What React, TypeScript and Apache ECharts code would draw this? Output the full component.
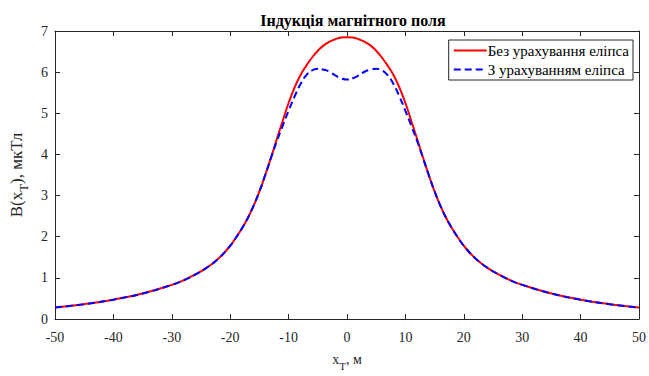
import React, { useEffect, useRef } from "react";
import * as echarts from "echarts";

const xValues = [
  -50, -45, -40, -35, -30, -28, -26, -24, -22, -20, -19, -18, -17, -16, -15, -14, -13, -12, -11, -10,
  -9, -8, -7, -6, -5, -4, -3, -2, -1, 0, 1, 2, 3, 4, 5, 6, 7, 8, 9,
  10, 11, 12, 13, 14, 15, 16, 17, 18, 19, 20, 22, 24, 26, 28, 30, 35, 40, 45, 50,
];

const withoutEllipse = [
  0.28, 0.36, 0.47, 0.62, 0.83, 0.94, 1.08, 1.25, 1.47, 1.78, 1.98, 2.2, 2.45, 2.75, 3.1, 3.5, 3.93, 4.38, 4.82, 5.25,
  5.62, 5.92, 6.15, 6.35, 6.52, 6.65, 6.74, 6.8, 6.84, 6.85, 6.84, 6.8, 6.74, 6.65, 6.52, 6.35, 6.15, 5.92, 5.62,
  5.25, 4.82, 4.38, 3.93, 3.5, 3.1, 2.75, 2.45, 2.2, 1.98, 1.78, 1.47, 1.25, 1.08, 0.94, 0.83, 0.62, 0.47, 0.36, 0.28,
];

const withEllipse = [
  0.28, 0.36, 0.47, 0.62, 0.83, 0.94, 1.08, 1.25, 1.47, 1.78, 1.98, 2.2, 2.45, 2.75, 3.1, 3.5, 3.92, 4.33, 4.7, 5.06,
  5.4, 5.7, 5.92, 6.04, 6.08, 6.06, 6.01, 5.92, 5.85, 5.82, 5.85, 5.92, 6.01, 6.06, 6.08, 6.04, 5.92, 5.7, 5.4,
  5.06, 4.7, 4.33, 3.92, 3.5, 3.1, 2.75, 2.45, 2.2, 1.98, 1.78, 1.47, 1.25, 1.08, 0.94, 0.83, 0.62, 0.47, 0.36, 0.28,
];

const seriesNames = ["Без урахування еліпса", "З урахуванням еліпса"];
const titleText = "Індукція магнітного поля";

const FONT = "'Liberation Serif', 'Times New Roman', serif";
const AX = "#262626";

export default function App() {
  const ref = useRef<HTMLDivElement>(null);
  useEffect(() => {
    if (!ref.current) return;
    const chart = echarts.init(ref.current, undefined, { renderer: "svg" });
    const axisCommon = {
      axisLine: { show: true, onZero: false, lineStyle: { color: AX, width: 1 } },
      axisTick: { show: true, inside: true, length: 5, lineStyle: { color: AX } },
      splitLine: { show: false },
    };
    chart.setOption({
      animation: false,
      backgroundColor: "#ffffff",
      textStyle: { fontFamily: FONT },
      title: {
        text: titleText,
        left: 348,
        textAlign: "center",
        top: 7,
        textStyle: { fontFamily: FONT, fontSize: 16, fontWeight: "bold", color: "#000" },
      },
      grid: { left: 53, right: 7, top: 31, bottom: 51 },
      legend: {
        orient: "vertical",
        right: 16,
        top: 40,
        backgroundColor: "#ffffff",
        borderColor: AX,
        borderWidth: 1,
        borderRadius: 0,
        padding: [3, 4, 3, 4],
        itemGap: 4,
        itemWidth: 33,
        itemHeight: 14,
        align: "left",
        itemStyle: { opacity: 0 },
        textStyle: { fontFamily: FONT, fontSize: 15, color: "#000", padding: [0, 0, 0, -4] },
        data: seriesNames,
      },
      xAxis: [
        {
          type: "value",
          min: -50,
          max: 50,
          interval: 10,
          position: "bottom",
          ...axisCommon,
          axisLabel: { fontFamily: FONT, fontSize: 14, color: AX, margin: 11 },
          name: "{a|x}{s|T}{a|, м}",
          nameLocation: "middle",
          nameGap: 33,
          nameTextStyle: {
            fontFamily: FONT,
            color: AX,
            rich: {
              a: { fontFamily: FONT, fontSize: 14, color: AX, verticalAlign: "top" },
              s: { fontFamily: FONT, fontSize: 11, color: AX, verticalAlign: "top", padding: [8, 0, 0, 0] },
            },
          },
        },
        {
          type: "value",
          min: -50,
          max: 50,
          interval: 10,
          position: "top",
          ...axisCommon,
          axisLabel: { show: false },
        },
      ],
      yAxis: [
        {
          type: "value",
          min: 0,
          max: 7,
          interval: 1,
          position: "left",
          ...axisCommon,
          axisLabel: { fontFamily: FONT, fontSize: 14, color: AX, margin: 7 },
          name: "{a|B(x}{s|T}{a|), мкТл}",
          nameLocation: "middle",
          nameGap: 25,
          nameTextStyle: {
            fontFamily: FONT,
            color: AX,
            rich: {
              a: { fontFamily: FONT, fontSize: 17, color: AX, verticalAlign: "top" },
              s: { fontFamily: FONT, fontSize: 13, color: AX, verticalAlign: "top", padding: [9, 0, 0, 0] },
            },
          },
        },
        {
          type: "value",
          min: 0,
          max: 7,
          interval: 1,
          position: "right",
          ...axisCommon,
          axisLabel: { show: false },
        },
      ],
      series: [
        {
          name: seriesNames[0],
          type: "line",
          smooth: true,
          symbol: "none",
          data: xValues.map((x, i) => [x, withoutEllipse[i]]),
          lineStyle: { color: "#ff0000", width: 2 },
          itemStyle: { color: "#ff0000" },
          z: 2,
        },
        {
          name: seriesNames[1],
          type: "line",
          smooth: true,
          symbol: "none",
          data: xValues.map((x, i) => [x, withEllipse[i]]),
          lineStyle: { color: "#0000ff", width: 2, type: [7, 4] },
          itemStyle: { color: "#0000ff" },
          z: 3,
        },
      ],
    });
    return () => chart.dispose();
  }, []);
  return <div ref={ref} style={{ width: 649, height: 376, position: "absolute", left: 0, top: 0 }} />;
}
